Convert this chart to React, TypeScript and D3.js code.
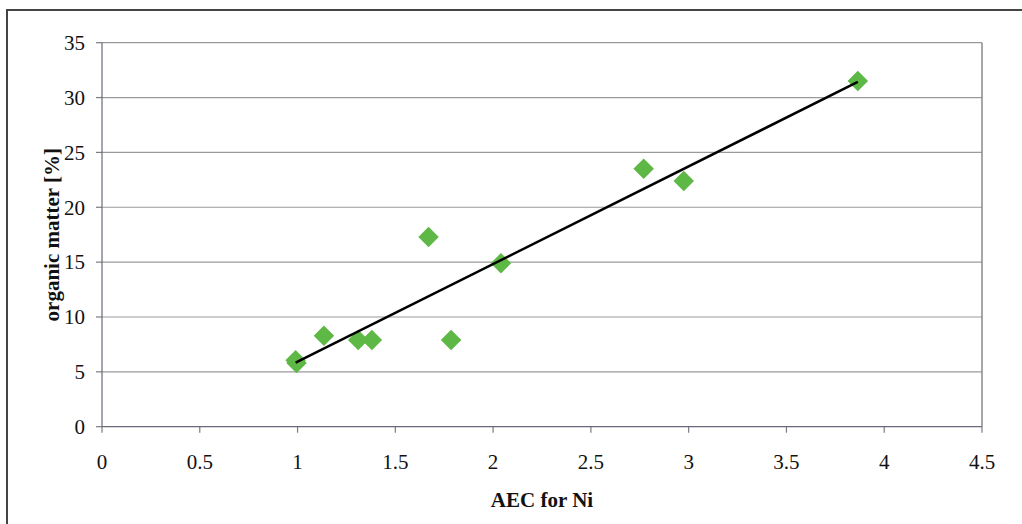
import React from "react";
import * as d3 from "d3";

const aec: number[] = [0.99, 0.995, 1.135, 1.31, 1.38, 1.67, 1.785, 2.04, 2.77, 2.975, 3.865];
const organicMatter: number[] = [6.06, 5.8, 8.3, 7.9, 7.9, 17.3, 7.9, 14.9, 23.5, 22.4, 31.5];
const xTicks: number[] = [0, 0.5, 1, 1.5, 2, 2.5, 3, 3.5, 4, 4.5];
const yTicks: number[] = [0, 5, 10, 15, 20, 25, 30, 35];
const xTitle = "AEC for Ni";
const yTitle = "organic matter [%]";

export default function App() {
  const W = 1022, H = 524;
  const left = 102, right = 982, top = 42.7, bottom = 426.7;
  const x = d3.scaleLinear().domain([0, 4.5]).range([left, right]);
  const y = d3.scaleLinear().domain([0, 35]).range([bottom, top]);

  const n = aec.length;
  const mx = d3.mean(aec)!;
  const my = d3.mean(organicMatter)!;
  let sxy = 0, sxx = 0;
  for (let i = 0; i < n; i++) {
    sxy += (aec[i] - mx) * (organicMatter[i] - my);
    sxx += (aec[i] - mx) ** 2;
  }
  const slope = sxy / sxx;
  const intercept = my - slope * mx;
  const [x0, x1] = d3.extent(aec) as [number, number];
  const line = d3.line<number>().x((v) => x(v)).y((v) => y(intercept + slope * v));

  const diamond = d3.symbol().type(d3.symbolSquare).size(210)();
  const font = "Liberation Serif";

  return (
    <svg width={W} height={H} style={{ position: "absolute", left: 0, top: 0, background: "#fff" }}>
      <rect x={7} y={10} width={W + 20} height={H + 20} fill="#fff" stroke="#444" strokeWidth={2} />
      {yTicks.map((t) => (
        <g key={"y" + t}>
          {t > 0 && <line x1={left} x2={right} y1={y(t)} y2={y(t)} stroke="#9a9a9a" strokeWidth={1.2} />}
          <line x1={left - 6} x2={left} y1={y(t)} y2={y(t)} stroke="#7a7a84" strokeWidth={1.2} />
          <text x={85} y={y(t)} dy="0.35em" textAnchor="end" fontFamily={font} fontSize={21} fill="#111">
            {t}
          </text>
        </g>
      ))}
      {xTicks.map((t) => (
        <g key={"x" + t}>
          <line x1={x(t)} x2={x(t)} y1={bottom} y2={bottom + 6} stroke="#7a7a84" strokeWidth={1.2} />
          <text x={x(t)} y={468.5} textAnchor="middle" fontFamily={font} fontSize={21} fill="#111">
            {t}
          </text>
        </g>
      ))}
      <line x1={right} x2={right} y1={top} y2={bottom} stroke="#8a8a8a" strokeWidth={1.5} />
      <line x1={left} x2={left} y1={top} y2={bottom} stroke="#6a6a78" strokeWidth={1.2} />
      <line x1={left} x2={right} y1={bottom} y2={bottom} stroke="#6a6a78" strokeWidth={1.2} />
      {aec.map((v, i) => (
        <path
          key={"p" + i}
          d={diamond!}
          transform={`translate(${x(v)},${y(organicMatter[i])}) rotate(45)`}
          fill="#5eb846"
        />
      ))}
      <path d={line([x0, x1]) || ""} stroke="#000" strokeWidth={2.5} fill="none" />
      <text x={(left + right) / 2} y={506.5} textAnchor="middle" fontFamily={font} fontSize={21} fontWeight="bold" fill="#111">
        {xTitle}
      </text>
      <text
        transform={`translate(59,${(top + bottom) / 2}) rotate(-90)`}
        textAnchor="middle"
        fontFamily={font}
        fontSize={21}
        fontWeight="bold"
        fill="#111"
      >
        {yTitle}
      </text>
    </svg>
  );
}
